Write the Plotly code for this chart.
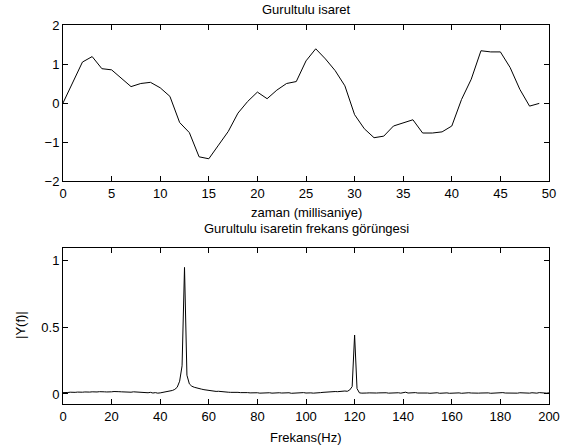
import plotly.graph_objects as go

# noisy signal, first 50 samples (ms)
time_ms = list(range(50))
signal = [0.00, 0.52, 1.05, 1.19, 0.88, 0.85, 0.64, 0.42, 0.50, 0.53,
          0.39, 0.17, -0.50, -0.76, -1.38, -1.43, -1.08, -0.73, -0.26, 0.04,
          0.28, 0.11, 0.33, 0.50, 0.55, 1.08, 1.39, 1.13, 0.83, 0.44,
          -0.30, -0.66, -0.89, -0.85, -0.59, -0.51, -0.43, -0.77, -0.77, -0.74,
          -0.59, 0.09, 0.61, 1.34, 1.31, 1.31, 0.91, 0.35, -0.08, -0.01]

# single-sided amplitude spectrum, 0..200 Hz
freq_hz = list(range(201))
amplitude = [
    0.010, 0.008, 0.011, 0.013, 0.010, 0.012, 0.014, 0.011, 0.013, 0.015,
    0.012, 0.014, 0.016, 0.013, 0.015, 0.017, 0.014, 0.016, 0.015, 0.013,
    0.016, 0.018, 0.015, 0.017, 0.016, 0.014, 0.017, 0.015, 0.013, 0.016,
    0.014, 0.012, 0.015, 0.013, 0.011, 0.009, 0.012, 0.007, 0.010, 0.006,
    0.008, 0.011, 0.013, 0.016, 0.020, 0.026, 0.034, 0.050, 0.095, 0.210,
    0.945,
    0.140, 0.075, 0.058, 0.050, 0.044, 0.040, 0.036, 0.032, 0.029,
    0.026, 0.024, 0.022, 0.019, 0.020, 0.017, 0.015, 0.016, 0.013, 0.012,
    0.013, 0.011, 0.012, 0.010, 0.011, 0.009, 0.010, 0.008, 0.009, 0.007,
    0.009, 0.006, 0.008, 0.010, 0.007, 0.009, 0.006, 0.008, 0.005, 0.009,
    0.007, 0.008, 0.006, 0.009, 0.005, 0.007, 0.009, 0.006, 0.008, 0.010,
    0.007, 0.009, 0.008, 0.006, 0.009, 0.007, 0.010, 0.012, 0.014, 0.013,
    0.016, 0.015, 0.018, 0.017, 0.020, 0.019, 0.022, 0.020, 0.030, 0.055,
    0.440,
    0.040, 0.008, 0.006, 0.009, 0.007, 0.008, 0.006, 0.009, 0.007,
    0.008, 0.010, 0.007, 0.009, 0.006, 0.008, 0.010, 0.007, 0.009, 0.006,
    0.008, 0.013, 0.007, 0.009, 0.006, 0.010, 0.007, 0.008, 0.006, 0.009,
    0.007, 0.005, 0.008, 0.006, 0.009, 0.005, 0.007, 0.006, 0.008, 0.005,
    0.007, 0.009, 0.006, 0.008, 0.005, 0.007, 0.006, 0.009, 0.007, 0.005,
    0.008, 0.006, 0.007, 0.009, 0.006, 0.008, 0.005, 0.007, 0.009, 0.006,
    0.008, 0.010, 0.007, 0.006, 0.009, 0.007, 0.008, 0.006, 0.009, 0.007,
    0.005, 0.008, 0.006, 0.009, 0.007, 0.006, 0.010, 0.007, 0.008, 0.006,
    0.008]

FONT = dict(family="Liberation Sans, Arial, sans-serif", size=13, color="black")

fig = go.Figure()
fig.add_trace(go.Scatter(x=time_ms, y=signal, mode="lines",
                         line=dict(color="black", width=1), xaxis="x", yaxis="y"))
fig.add_trace(go.Scatter(x=freq_hz, y=amplitude, mode="lines",
                         line=dict(color="black", width=1), xaxis="x2", yaxis="y2"))

axis_style = dict(showline=True, linecolor="black", linewidth=1, mirror="allticks",
                  ticks="inside", ticklen=5, tickcolor="black", showgrid=False,
                  zeroline=False, tickfont=FONT, automargin=False)

fig.update_layout(
    template="none",
    width=563, height=448,
    margin=dict(l=63, r=14, t=25, b=44, autoexpand=False),
    paper_bgcolor="white", plot_bgcolor="white",
    showlegend=False, font=FONT,
    xaxis=dict(domain=[0, 1], range=[0, 50], tickmode="array",
               tickvals=list(range(0, 51, 5)), anchor="y", **axis_style),
    yaxis=dict(domain=[0.5884, 1], range=[-2, 2], tickvals=[-2, -1, 0, 1, 2],
               anchor="x", **axis_style),
    xaxis2=dict(domain=[0, 1], range=[0, 200], tickvals=list(range(0, 201, 20)),
                anchor="y2", **axis_style),
    yaxis2=dict(domain=[0, 0.4116], range=[-0.075, 1.09], tickvals=[0, 0.5, 1],
                ticktext=["0", "0.5", "1"], anchor="x2", **axis_style),
    annotations=[
        dict(text="Gurultulu isaret", x=306, y=9, xref="paper", yref="paper"),
        dict(text="zaman (millisaniye)", x=306, y=212, xref="paper", yref="paper"),
        dict(text="Gurultulu isaretin frekans görüngesi", x=306, y=228,
             xref="paper", yref="paper"),
        dict(text="Frekans(Hz)", x=306, y=437, xref="paper", yref="paper"),
        dict(text="|Y(f)|", x=20, y=325, xref="paper", yref="paper", textangle=-90),
    ],
)

# convert annotation pixel positions into paper coordinates
pw, ph = 563 - 63 - 14, 448 - 25 - 44
for a in fig.layout.annotations:
    a.x = (a.x - 63) / pw
    a.y = (448 - 44 - a.y) / ph
    a.showarrow = False
    a.xanchor = "center"
    a.yanchor = "middle"
    a.font = FONT

# drop the default page margin so the figure sits at the window corner
fig.write_html("out.html", config={"displayModeBar": False},
               post_script="document.body.style.margin='0';document.body.style.overflow='hidden';")
